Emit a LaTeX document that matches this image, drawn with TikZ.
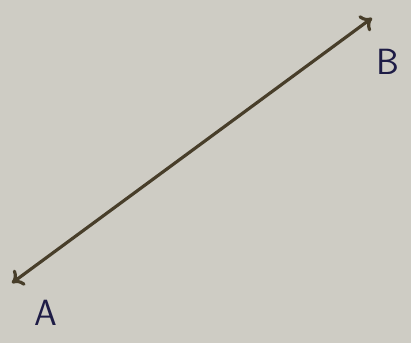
\documentclass[tikz,border=0pt]{standalone}
\usepackage{tikz}
\usetikzlibrary{positioning,arrows.meta}
\usepackage{xcolor}
\definecolor{paperbg}{RGB}{206,204,196}
\definecolor{pencilline}{RGB}{72,62,42}
\definecolor{inkblue}{RGB}{30,28,70}

\begin{document}
\begin{tikzpicture}[every node/.style={text=inkblue, font=\huge\sffamily},
    segment/.style={draw=pencilline, line width=1.8pt, {To[length=6pt,width=11pt]}-{To[length=6pt,width=11pt]}}]

    \fill[paperbg] (0,0) rectangle (8.22,6.86);
    \useasboundingbox (0,0) rectangle (8.22,6.86);

    \coordinate (a) at (0.24,1.20);
    \coordinate (b) at (7.44,6.50);
    \node (labela) at (0.92,0.60) {A};
    \node (labelb) at (7.76,5.62) {B};

    \draw[segment] (a) -- (b);
\end{tikzpicture}
\end{document}
